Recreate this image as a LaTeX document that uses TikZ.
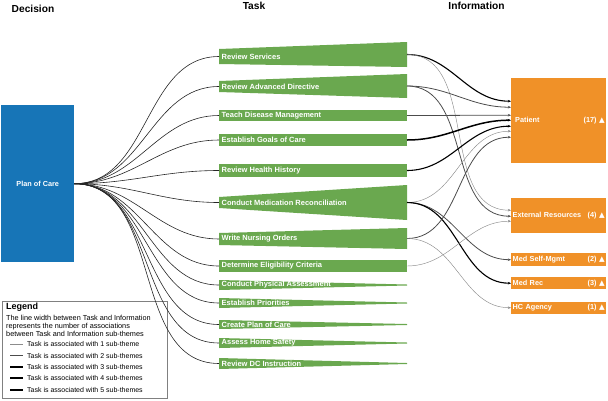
\documentclass[tikz,border=0pt]{standalone}
\usepackage{fontspec}
\setmainfont{Liberation Sans}
\newfontfamily\symfont{DejaVu Sans}
\usetikzlibrary{arrows.meta}
\definecolor{taskgreen}{RGB}{106,168,79}
\definecolor{infoorange}{RGB}{240,145,40}
\definecolor{pocblue}{RGB}{23,117,183}

\begin{document}
\begin{tikzpicture}[x=1pt, y=-1pt, >={Stealth[length=3.2pt,width=2.6pt]},
  head/.style = {font=\fontsize{10.2}{12}\selectfont\bfseries},
  task/.style = {fill=taskgreen},
  tlabel/.style = {anchor=west, inner sep=2.5pt, text=white, font=\fontsize{7.5}{8}\selectfont\bfseries},
  info/.style = {fill=infoorange, anchor=north west, inner sep=1.5pt, text width=92pt, text=white, font=\fontsize{7.3}{8}\selectfont\bfseries},
  dline/.style = {black!85, line width=0.6pt},
  link1/.style = {->, black!45, line width=0.45pt},
  link2/.style = {->, black!70, line width=0.8pt},
  link3/.style = {->, black, line width=1.1pt},
  link4/.style = {->, black, line width=1.5pt},
  link5/.style = {->, black, line width=2pt},
  legtxt/.style = {anchor=west, inner sep=0pt, font=\fontsize{7}{8}\selectfont}]
\useasboundingbox (0,0) rectangle (608,400);

% column headings
\node[head] (hdec) at (33,9) {Decision};
\node[head] (htask) at (254,6) {Task};
\node[head] (hinfo) at (476.5,6) {Information};

% decision
\node[fill=pocblue, anchor=north west, minimum width=73pt, minimum height=157pt, text=white, font=\fontsize{7.3}{8}\selectfont\bfseries] (poc) at (1,105) {Plan of Care};

% tasks
\fill[task] (219,49) -- (407,42) -- (407,67) -- (219,64) -- cycle;
\node[tlabel] (rs) at (219,56.5) {Review Services};
\coordinate (rs-r) at (407,54.5);
\fill[task] (219,81) -- (407,74) -- (407,98) -- (219,92) -- cycle;
\node[tlabel] (rad) at (219,86.5) {Review Advanced Directive};
\coordinate (rad-r) at (407,86);
\fill[task] (219,110) rectangle (407,121);
\node[tlabel] (tdm) at (219,115.5) {Teach Disease Management};
\coordinate (tdm-r) at (407,115.5);
\fill[task] (219,134) rectangle (407,146);
\node[tlabel] (egc) at (219,140) {Establish Goals of Care};
\coordinate (egc-r) at (407,140);
\fill[task] (219,164) rectangle (407,177);
\node[tlabel] (rhh) at (219,170.5) {Review Health History};
\coordinate (rhh-r) at (407,170.5);
\fill[task] (219,197) -- (407,185) -- (407,220) -- (219,208) -- cycle;
\node[tlabel] (cmr) at (219,202.5) {Conduct Medication Reconciliation};
\coordinate (cmr-r) at (407,202.5);
\fill[task] (219,233) -- (407,228) -- (407,249) -- (219,245) -- cycle;
\node[tlabel] (wno) at (219,239) {Write Nursing Orders};
\coordinate (wno-r) at (407,238.5);
\fill[task] (219,260) rectangle (407,272);
\node[tlabel] (elig) at (219,266) {Determine Eligibility Criteria};
\coordinate (elig-r) at (407,266);
\fill[task] (219,280) -- (407,284.5) -- (407,285.5) -- (219,290) -- cycle;
\node[tlabel] (cpa) at (219,285) {Conduct Physical Assessment};
\fill[task] (219,298) -- (407,302.5) -- (407,303.5) -- (219,308) -- cycle;
\node[tlabel] (ep) at (219,303) {Establish Priorities};
\fill[task] (219,320) -- (407,324) -- (407,325) -- (219,329) -- cycle;
\node[tlabel] (cpc) at (219,324.5) {Create Plan of Care};
\fill[task] (219,338) -- (407,342.5) -- (407,343.5) -- (219,348) -- cycle;
\node[tlabel] (ahs) at (219,343) {Assess Home Safety};
\fill[task] (219,358) -- (407,363) -- (407,364) -- (219,369) -- cycle;
\node[tlabel] (rdc) at (219,363.5) {Review DC Instruction};

% information
\node[info, minimum height=85pt] (pat) at (511,78) {\hspace{2.5pt}Patient\hfill(17)~{\symfont ▲}};
\node[info, minimum height=35pt] (ext) at (511,198) {External Resources\hfill(4)~{\symfont ▲}};
\node[info, minimum height=13pt] (mself) at (511,253) {Med Self-Mgmt\hfill(2)~{\symfont ▲}};
\node[info, minimum height=12pt] (mrec) at (511,277) {Med Rec\hfill(3)~{\symfont ▲}};
\node[info, minimum height=12pt] (hca) at (511,301.5) {HC Agency\hfill(1)~{\symfont ▲}};

% legend
\draw[black!50, line width=0.5pt] (2,301) rectangle (167,398);
\node[legtxt, font=\fontsize{9}{10}\selectfont\bfseries] (leg) at (6,307) {Legend};
\node[legtxt, align=left, font=\fontsize{7.3}{8}\selectfont] (legd) at (6,326) {The line width between Task and Information\\represents the number of associations\\between Task and Information sub-themes};
\node[legtxt] (l1) at (27,344) {Task is associated with 1 sub-theme};
\node[legtxt] (l2) at (27,355.5) {Task is associated with 2 sub-themes};
\node[legtxt] (l3) at (27,367) {Task is associated with 3 sub-themes};
\node[legtxt] (l4) at (27,378) {Task is associated with 4 sub-themes};
\node[legtxt] (l5) at (27,389.5) {Task is associated with 5 sub-themes};
\draw[link1, -] ([xshift=-17pt]l1.west) -- ([xshift=-4pt]l1.west);
\draw[link2, -] ([xshift=-17pt]l2.west) -- ([xshift=-4pt]l2.west);
\draw[link3, -] ([xshift=-17pt]l3.west) -- ([xshift=-4pt]l3.west);
\draw[link4, -] ([xshift=-17pt]l4.west) -- ([xshift=-4pt]l4.west);
\draw[link5, -] ([xshift=-17pt]l5.west) -- ([xshift=-4pt]l5.west);

% decision to task
\draw[dline] (poc.east) to[out=0, in=180] (rs.west);
\draw[dline] (poc.east) to[out=0, in=180] (rad.west);
\draw[dline] (poc.east) to[out=0, in=180] (tdm.west);
\draw[dline] (poc.east) to[out=0, in=180] (egc.west);
\draw[dline] (poc.east) to[out=0, in=180] (rhh.west);
\draw[dline] (poc.east) to[out=0, in=180] (cmr.west);
\draw[dline] (poc.east) to[out=0, in=180] (wno.west);
\draw[dline] (poc.east) to[out=0, in=180] (elig.west);
\draw[dline] (poc.east) to[out=0, in=180] (cpa.west);
\draw[dline] (poc.east) to[out=0, in=180] (ep.west);
\draw[dline] (poc.east) to[out=0, in=180] (cpc.west);
\draw[dline] (poc.east) to[out=0, in=180] (ahs.west);
\draw[dline] (poc.east) to[out=0, in=180] (rdc.west);

% task to information
\draw[link3] (rs-r) to[out=0, in=180] ([yshift=19.5pt]pat.west);
\draw[link1] (rs-r) to[out=0, in=180] ([yshift=5.5pt]ext.west);
\draw[link2] (rad-r) to[out=0, in=180] ([yshift=13.5pt]pat.west);
\draw[link2] (rad-r) to[out=0, in=180] ([yshift=-0.5pt]ext.west);
\draw[link2] (tdm-r) to[out=0, in=180] ([yshift=5.5pt]pat.west);
\draw[link4] (egc-r) to[out=0, in=180] ([yshift=0.5pt]pat.west);
\draw[link3] (rhh-r) to[out=0, in=180] ([yshift=-5.5pt]pat.west);
\draw[link1] (cmr-r) to[out=0, in=180] ([yshift=-10.5pt]pat.west);
\draw[link2] (cmr-r) to[out=0, in=180] (mself.west);
\draw[link3] (cmr-r) to[out=0, in=180] (mrec.west);
\draw[link2] (wno-r) to[out=0, in=180] ([yshift=-16.5pt]pat.west);
\draw[link1] (wno-r) to[out=0, in=180] (hca.west);
\draw[link1] (elig-r) to[out=0, in=180] ([yshift=-5.5pt]ext.west);
\end{tikzpicture}
\end{document}
